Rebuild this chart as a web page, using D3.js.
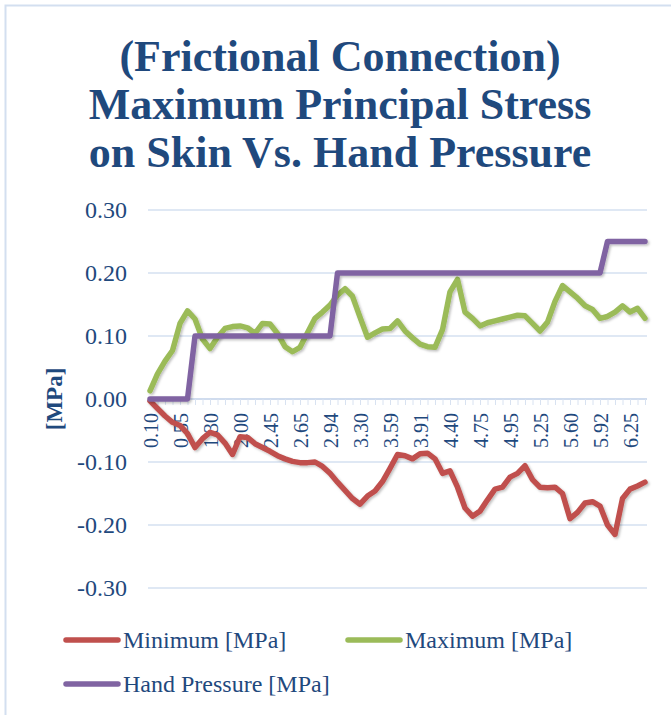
<!DOCTYPE html>
<html>
<head>
<meta charset="utf-8">
<script src="https://cdn.jsdelivr.net/npm/d3@7"></script>
<style>
  body { margin: 0; background: #fff; }
  svg text { font-family: "Liberation Serif", "Times New Roman", serif; fill: #1f497d; }
</style>
</head>
<body>
<div id="chart"></div>
<script>

// tick labels shown on the category axis (every 4th point)
var tickLabels = ["0.10","0.55","1.30","2.00","2.45","2.65","2.94","3.30","3.59",
                  "3.91","4.40","4.75","4.95","5.25","5.60","5.92","6.25"];

var minimum = [-0.003,-0.015,-0.027,-0.037,-0.042,-0.055,-0.077,-0.063,-0.053,-0.057,
               -0.070,-0.088,-0.060,-0.061,-0.071,-0.077,-0.083,-0.090,-0.095,-0.099,
               -0.101,-0.101,-0.100,-0.107,-0.118,-0.132,-0.145,-0.158,-0.167,-0.154,
               -0.146,-0.131,-0.110,-0.088,-0.090,-0.095,-0.087,-0.086,-0.095,-0.118,
               -0.114,-0.140,-0.173,-0.186,-0.178,-0.160,-0.143,-0.140,-0.124,-0.118,
               -0.106,-0.128,-0.140,-0.141,-0.140,-0.150,-0.190,-0.180,-0.165,-0.163,
               -0.170,-0.200,-0.215,-0.158,-0.143,-0.138,-0.132];

var maximum = [0.013,0.040,0.060,0.077,0.120,0.140,0.127,0.095,0.080,0.098,
               0.112,0.115,0.116,0.113,0.104,0.120,0.119,0.104,0.083,0.075,
               0.082,0.105,0.128,0.138,0.149,0.165,0.175,0.163,0.130,0.098,
               0.105,0.111,0.112,0.124,0.108,0.097,0.087,0.083,0.082,0.110,
               0.170,0.190,0.138,0.128,0.116,0.121,0.124,0.127,0.130,0.133,
               0.132,0.120,0.108,0.122,0.155,0.180,0.170,0.160,0.148,0.142,
               0.128,0.131,0.138,0.148,0.138,0.144,0.128];

var handPressure = [0,0,0,0,0,0,0.10,0.10,0.10,0.10,
                    0.10,0.10,0.10,0.10,0.10,0.10,0.10,0.10,0.10,0.10,
                    0.10,0.10,0.10,0.10,0.10,0.20,0.20,0.20,0.20,0.20,
                    0.20,0.20,0.20,0.20,0.20,0.20,0.20,0.20,0.20,0.20,
                    0.20,0.20,0.20,0.20,0.20,0.20,0.20,0.20,0.20,0.20,
                    0.20,0.20,0.20,0.20,0.20,0.20,0.20,0.20,0.20,0.20,
                    0.20,0.25,0.25,0.25,0.25,0.25,0.25];

var yTicks = [-0.3,-0.2,-0.1,0,0.1,0.2,0.3];

var series = [
  { name: "Minimum [MPa]", values: minimum, color: "#c0504d" },
  { name: "Maximum [MPa]", values: maximum, color: "#9bbb59" },
  { name: "Hand Pressure [MPa]", values: handPressure, color: "#8064a2" }
];

drawChart();

function drawChart() {

  var svg = d3.select("#chart")
    .append("svg")
    .attr("width", 671)
    .attr("height", 715);

  var defs = svg.append("defs");
  var f = defs.append("filter").attr("id", "shadow")
    .attr("x", "-5%").attr("y", "-5%").attr("width", "110%").attr("height", "120%");
  f.append("feDropShadow").attr("dx", 1.5).attr("dy", 1.5).attr("stdDeviation", 1.2)
    .attr("flood-color", "#000").attr("flood-opacity", 0.25);

  // chart border (only top/left edge in view)
  svg.append("rect")
    .attr("x", 5.5).attr("y", 5.5)
    .attr("width", 720).attr("height", 760)
    .attr("fill", "none")
    .attr("stroke", "#d3dff0")
    .attr("stroke-width", 2);

  // title
  var title = ["(Frictional Connection)", "Maximum Principal Stress", "on Skin Vs. Hand Pressure"];
  svg.selectAll(".title")
    .data(title)
    .enter()
    .append("text")
    .attr("class", "title")
    .attr("x", 340)
    .attr("y", function(d, i) { return 71 + i * 48; })
    .attr("text-anchor", "middle")
    .style("font-size", "44px")
    .style("font-weight", "bold")
    .text(function(d) { return d; });

  var x = d3.scalePoint()
    .domain(d3.range(minimum.length))
    .range([150, 645]);

  var y = d3.scaleLinear()
    .domain([-0.3, 0.3])
    .range([588, 210]);

  // gridlines
  svg.append("g")
    .selectAll("line")
    .data(yTicks.filter(function(d) { return d != 0; }))
    .enter()
    .append("line")
    .attr("x1", 148).attr("x2", 647)
    .attr("y1", function(d) { return y(d); })
    .attr("y2", function(d) { return y(d); })
    .attr("stroke", "#d5e0f0")
    .attr("stroke-width", 1.5);

  // y axis labels (plain hyphen for negatives, like the original)
  var fmt = d3.format(".2f");
  var yaxis = svg.append("g")
    .attr("transform", "translate(127,0)")
    .call(d3.axisLeft(y).tickValues(yTicks).tickSize(0).tickPadding(0)
      .tickFormat(function(d) { return fmt(d).replace("\u2212", "-"); }));
  yaxis.select(".domain").remove();
  yaxis.selectAll("text")
    .attr("fill", "#1f497d")
    .style("font-size", "24px")
    .style("font-family", "Liberation Serif");

  // x axis along zero
  var xaxis = svg.append("g")
    .attr("transform", "translate(0," + y(0) + ")")
    .call(d3.axisBottom(x).tickSize(6).tickSizeOuter(0)
      .tickFormat(function(d) { return d % 4 == 0 ? tickLabels[d / 4] : ""; }));
  xaxis.select(".domain")
    .attr("d", "M148,0H647")
    .attr("stroke", "#d0dcee")
    .attr("stroke-width", 2);
  xaxis.selectAll(".tick line")
    .attr("stroke", "#d8e2f1")
    .attr("stroke-width", 1);
  xaxis.selectAll("text")
    .attr("fill", "#1f497d")
    .style("font-size", "20px")
    .style("font-family", "Liberation Serif")
    .style("text-anchor", "end")
    .attr("transform", "rotate(-90)")
    .attr("x", -14)
    .attr("y", 0)
    .attr("dy", "0.35em");

  // y axis title
  svg.append("text")
    .attr("transform", "translate(54,399) rotate(-90)")
    .attr("text-anchor", "middle")
    .attr("dy", "0.35em")
    .style("font-size", "23px")
    .style("font-weight", "bold")
    .text("[MPa]");

  var line = d3.line()
    .x(function(d, i) { return x(i); })
    .y(function(d) { return y(d); });

  svg.append("g")
    .selectAll("path")
    .data(series)
    .enter()
    .append("path")
    .attr("d", function(d) { return line(d.values); })
    .attr("fill", "none")
    .attr("stroke", function(d) { return d.color; })
    .attr("stroke-width", 5.5)
    .attr("stroke-linejoin", "round")
    .attr("stroke-linecap", "round")
    .attr("filter", "url(#shadow)");

  // legend
  var legendPos = [[64, 640], [346, 640], [64, 684]];
  var lg = svg.selectAll(".legend")
    .data(series)
    .enter()
    .append("g")
    .attr("class", "legend")
    .attr("transform", function(d, i) { return "translate(" + legendPos[i][0] + "," + legendPos[i][1] + ")"; });

  lg.append("line")
    .attr("x1", 2).attr("x2", 54)
    .attr("stroke", function(d) { return d.color; })
    .attr("stroke-width", 5.5)
    .attr("stroke-linecap", "round");

  lg.append("text")
    .attr("x", 59)
    .attr("dy", "0.35em")
    .style("font-size", "24px")
    .text(function(d) { return d.name; });
}

</script>
</body>
</html>
